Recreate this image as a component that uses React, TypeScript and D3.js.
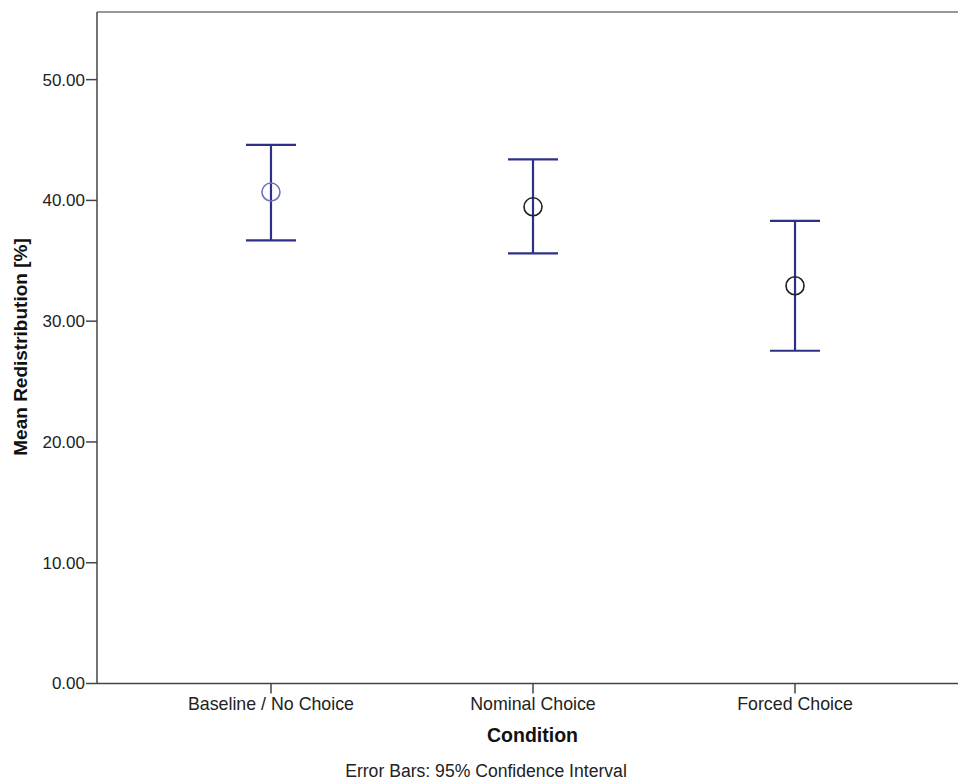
import React from "react";
import * as d3 from "d3";

// Conditions and their mean redistribution with 95% CI bounds (%)
const categories = ["Baseline / No Choice", "Nominal Choice", "Forced Choice"];
const means = [40.69, 39.47, 32.93];
const ciLower = [36.69, 35.61, 27.55];
const ciUpper = [44.6, 43.39, 38.31];
const yTicks = [0, 10, 20, 30, 40, 50];

const W = 958;
const H = 780;
const left = 97;
const top = 12;
const bottom = 683.5;

export default function App() {
  const y = d3.scaleLinear().domain([0, 55.6]).range([bottom, top]);
  const x = d3
    .scalePoint<string>()
    .domain(categories)
    .range([left, left + 872])
    .padding(0.664);
  const font = "Liberation Sans, Arial, Helvetica, sans-serif";
  const barColor = "#2e3088";
  const capHalf = 25;

  return (
    <svg
      width={W}
      height={H}
      style={{ position: "absolute", left: 0, top: 0, background: "#fff" }}
      fontFamily={font}
    >
      {/* frame top */}
      <line x1={left} x2={W} y1={top} y2={top} stroke="#777" strokeWidth={1.5} />
      {/* y axis */}
      <line x1={left} x2={left} y1={top} y2={bottom} stroke="#444" strokeWidth={1.5} />
      {/* x axis */}
      <line x1={left} x2={W} y1={bottom} y2={bottom} stroke="#444" strokeWidth={1.5} />
      {yTicks.map((t) => (
        <g key={t}>
          <line x1={left - 11} x2={left} y1={y(t)} y2={y(t)} stroke="#444" strokeWidth={1.5} />
          <text
            x={left - 12}
            y={y(t)}
            dy="0.35em"
            textAnchor="end"
            fontSize={17}
            fill="#222"
          >
            {d3.format(".2f")(t)}
          </text>
        </g>
      ))}
      {categories.map((c) => (
        <g key={c}>
          <line x1={x(c)} x2={x(c)} y1={bottom} y2={bottom + 10} stroke="#444" strokeWidth={1.5} />
          <text x={x(c)} y={710} textAnchor="middle" fontSize={17.8} fill="#222">
            {c}
          </text>
        </g>
      ))}
      {categories.map((c, i) => {
        const cx = x(c) as number;
        return (
          <g key={"e" + c}>
            <line x1={cx} x2={cx} y1={y(ciUpper[i])} y2={y(ciLower[i])} stroke={barColor} strokeWidth={2.2} />
            <line x1={cx - capHalf} x2={cx + capHalf} y1={y(ciUpper[i])} y2={y(ciUpper[i])} stroke={barColor} strokeWidth={2.2} />
            <line x1={cx - capHalf} x2={cx + capHalf} y1={y(ciLower[i])} y2={y(ciLower[i])} stroke={barColor} strokeWidth={2.2} />
            <circle
              cx={cx}
              cy={y(means[i])}
              r={9}
              fill="none"
              stroke={i === 0 ? "#6f72b8" : "#222"}
              strokeWidth={1.6}
            />
          </g>
        );
      })}
      <text
        transform="translate(26.5, 347) rotate(-90)"
        textAnchor="middle"
        fontSize={19}
        fontWeight="bold"
        fill="#111"
      >
        Mean Redistribution [%]
      </text>
      <text x={532.5} y={742} textAnchor="middle" fontSize={19.5} fontWeight="bold" fill="#111">
        Condition
      </text>
      <text x={486} y={777} textAnchor="middle" fontSize={17.6} fill="#222">
        Error Bars: 95% Confidence Interval
      </text>
    </svg>
  );
}
